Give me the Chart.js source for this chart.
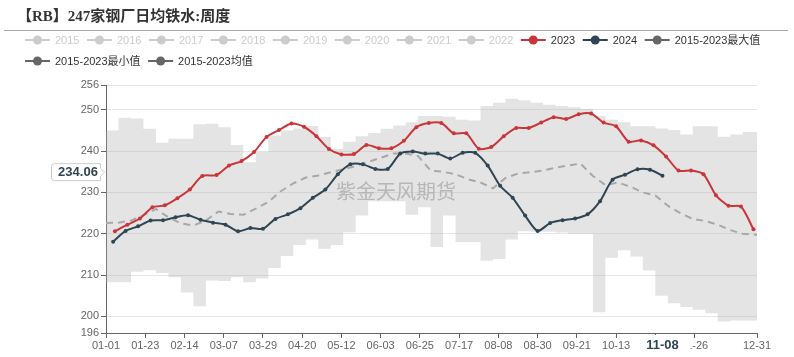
<!DOCTYPE html>
<html><head><meta charset="utf-8">
<script src="https://cdn.jsdelivr.net/npm/chart.js@4.4.1/dist/chart.umd.min.js"></script>
<style>html,body{margin:0;padding:0;background:#fff;}#wrap{width:794px;height:357px;position:relative;}</style>
</head><body><div id="wrap"><canvas id="c" width="794" height="357"></canvas></div>
<script>
// ---------- DATA ----------
const chartTitle = '【RB】247家钢厂日均铁水:周度';
const watermark = '紫金天风期货';
const seriesNames = ['2015','2016','2017','2018','2019','2020','2021','2022','2023','2024','2015-2023最大值','2015-2023最小值','2015-2023均值'];
const seriesShown = [false,false,false,false,false,false,false,false,true,true,true,true,true];
const xTickLabels = ['01-01','01-23','02-14','03-07','03-29','04-20','05-12','06-03','06-25','07-17','08-08','08-30','09-21','10-13','11-04','11-26','12-31'];
const yTickValues = [196,200,210,220,230,240,250,256];
const pointerX = '11-08';
const pointerY = 234.06;

const dates2023 = ['01-06','01-13','01-20','01-27','02-03','02-10','02-17','02-24','03-03','03-10','03-17','03-24','03-31','04-07','04-14','04-21','04-28','05-05','05-12','05-19','05-26','06-02','06-09','06-16','06-23','06-30','07-07','07-14','07-21','07-28','08-04','08-11','08-18','08-25','09-01','09-08','09-15','09-22','09-29','10-06','10-13','10-20','10-27','11-03','11-10','11-17','11-24','12-01','12-08','12-15','12-22','12-29'];
const values2023 = [220.6,222.2,223.7,226.4,226.9,228.6,230.7,234.0,234.2,236.5,237.6,239.8,243.4,245.1,246.7,245.9,243.6,240.5,239.2,239.3,241.5,240.7,240.7,242.5,245.8,246.8,246.8,244.3,244.3,240.6,241.0,243.6,245.6,245.6,246.9,248.2,247.8,248.9,249.1,246.9,246.0,242.3,242.6,241.4,238.7,235.3,235.3,234.4,229.3,226.8,226.6,221.1];

const dates2024 = ['01-05','01-12','01-19','01-26','02-02','02-09','02-16','02-23','03-01','03-08','03-15','03-22','03-29','04-05','04-12','04-19','04-26','05-03','05-10','05-17','05-24','05-31','06-07','06-14','06-21','06-28','07-05','07-12','07-19','07-26','08-02','08-09','08-16','08-23','08-30','09-06','09-13','09-20','09-27','10-04','10-11','10-18','10-25','11-01','11-08'];
const values2024 = [218.1,220.7,221.8,223.2,223.3,224.0,224.5,223.4,222.7,222.2,220.6,221.4,221.2,223.6,224.7,226.2,228.7,230.7,234.4,236.8,236.8,235.7,235.7,239.4,239.9,239.4,239.4,238.2,239.6,239.6,236.5,231.6,228.7,224.4,220.7,222.6,223.3,223.7,224.7,227.9,233.1,234.3,235.6,235.5,234.06];

const bandDates = ['01-01','01-08','01-15','01-22','01-29','02-05','02-12','02-19','02-26','03-04','03-11','03-18','03-25','04-01','04-08','04-15','04-22','04-29','05-06','05-13','05-20','05-27','06-03','06-10','06-17','06-24','07-01','07-08','07-15','07-22','07-29','08-05','08-12','08-19','08-26','09-02','09-09','09-16','09-23','09-30','10-07','10-14','10-21','10-28','11-04','11-11','11-18','11-25','12-02','12-09','12-16','12-23','12-30','12-31'];
const maxValues = [245.0,248.1,247.9,245.4,242.0,243.0,243.0,246.5,246.6,245.8,241.5,237.3,239.8,243.8,245.0,245.5,246.1,243.4,240.5,242.3,243.6,244.4,245.4,246.2,247.0,248.5,248.5,248.3,247.6,247.4,250.9,251.7,252.7,252.3,251.7,251.2,250.9,250.6,250.2,248.5,247.6,247.0,246.0,246.0,245.5,245.1,244.0,246.0,246.0,243.5,244.0,244.6,244.6,244.6];
const minValues = [208.3,208.3,210.8,211.2,210.5,209.5,205.8,202.5,208.7,208.6,209.5,208.3,209.2,211.7,214.6,217.3,218.6,216.4,217.3,220.4,224.4,227.9,227.9,227.9,224.6,226.4,216.8,224.4,218.0,218.0,213.5,213.9,218.6,220.6,220.5,220.5,220.3,220.0,220.0,201.0,214.2,216.0,214.5,211.1,205.0,203.2,202.3,201.6,200.8,198.8,199.0,199.0,199.0,199.0];
const meanValues = [222.6,222.7,223.2,224.5,226.0,224.0,222.5,222.0,223.2,225.4,224.8,224.6,226.1,227.7,230.3,232.2,233.6,234.1,234.9,235.6,236.4,237.4,238.4,239.4,239.4,238.8,235.3,235.0,234.4,233.2,232.4,231.0,233.5,234.6,234.9,235.3,236.0,236.5,237.0,234.0,231.8,232.4,231.4,230.0,229.3,226.8,225.0,223.6,223.1,222.2,220.9,220.0,219.8,219.8];

// ---------- STYLE ----------
const RED = '#c9363a', DARK = '#2f4554', GREY = '#666666';
const legendColors = ['#ccc','#ccc','#ccc','#ccc','#ccc','#ccc','#ccc','#ccc',RED,DARK,GREY,GREY,GREY];
const LATIN = '"Liberation Sans","Noto Sans CJK SC",sans-serif';

function dayOf(md){ const [m,d]=md.split('-').map(Number); return (Date.UTC(2024,m-1,d)-Date.UTC(2024,0,1))/86400000; }
function mdOf(day){ const dt=new Date(Date.UTC(2024,0,1)+day*86400000); return String(dt.getUTCMonth()+1).padStart(2,'0')+'-'+String(dt.getUTCDate()).padStart(2,'0'); }
const pts = (ds, vs) => ds.map((d,i)=>({x:dayOf(d), y:vs[i]}));

const decor = {
  id:'decor',
  beforeDraw(chart){
    const ctx = chart.ctx;
    ctx.save();
    ctx.fillStyle='#fff'; ctx.fillRect(0,0,chart.width,chart.height);
    ctx.fillStyle='#333'; ctx.font='bold 15px "Liberation Serif","Noto Sans CJK SC",serif';
    ctx.textBaseline='middle'; ctx.textAlign='left';
    ctx.fillText(chartTitle,17,17);
    ctx.strokeStyle='#aaa'; ctx.lineWidth=1;
    ctx.beginPath(); ctx.moveTo(4,30.5); ctx.lineTo(788,30.5); ctx.stroke();
    // legend
    ctx.font='11px '+LATIN;
    let x=25, y=40;
    seriesNames.forEach((name,i)=>{
      const w=ctx.measureText(name).width;
      const itemW=30+w;
      if(x+itemW>780){ x=25; y+=21; }
      const col=legendColors[i];
      ctx.strokeStyle=col; ctx.lineWidth=2;
      ctx.beginPath(); ctx.moveTo(x,y); ctx.lineTo(x+25,y); ctx.stroke();
      ctx.fillStyle=col; ctx.beginPath(); ctx.arc(x+12.5,y,4.5,0,Math.PI*2); ctx.fill();
      ctx.fillStyle=seriesShown[i]?'#333':'#ccc';
      ctx.fillText(name,x+30,y+0.5);
      x+=itemW+7.5;
    });
    ctx.restore();
  },
  beforeDatasetsDraw(chart){
    const ctx=chart.ctx; ctx.save();
    ctx.font='20px "Noto Sans CJK SC",sans-serif'; ctx.fillStyle='#bdbdbd';
    ctx.textAlign='center'; ctx.textBaseline='middle';
    ctx.fillText(watermark,396,191);
    ctx.restore();
  },
  afterDraw(chart){
    const ctx=chart.ctx; ctx.save();
    // y pointer label
    const cy=chart.scales.y.getPixelForValue(pointerY)-3.5;
    ctx.fillStyle='#fff'; ctx.strokeStyle='#ccc'; ctx.lineWidth=1;
    const l=51.5, r=100.5, t=cy-8.5, b=cy+8.5, rad=3;
    ctx.beginPath();
    ctx.moveTo(l+rad,t); ctx.lineTo(r,t); ctx.lineTo(r,cy-4); ctx.lineTo(r+4,cy); ctx.lineTo(r,cy+4); ctx.lineTo(r,b);
    ctx.lineTo(l+rad,b); ctx.arcTo(l,b,l,b-rad,rad); ctx.lineTo(l,t+rad); ctx.arcTo(l,t,l+rad,t,rad); ctx.closePath();
    ctx.fill(); ctx.stroke();
    ctx.fillStyle=DARK; ctx.font='bold 13px '+LATIN; ctx.textAlign='center'; ctx.textBaseline='middle';
    ctx.fillText(pointerY.toFixed(2),78,cy+0.5);
    // x pointer label
    const px=chart.scales.x.getPixelForValue(dayOf(pointerX));
    ctx.fillStyle='#fff'; ctx.fillRect(px-28,335,56,22);
    ctx.fillStyle=DARK; ctx.fillText(pointerX,px,345.5);
    ctx.restore();
  }
};

Chart.defaults.font.family=LATIN;
Chart.defaults.font.size=11;
Chart.defaults.color='#666';

new Chart(document.getElementById('c'),{
  type:'line',
  data:{datasets:[
    {label:'2023',data:pts(dates2023,values2023),borderColor:RED,backgroundColor:RED,borderWidth:2,pointRadius:2,pointBorderWidth:0,pointBackgroundColor:RED,tension:0.25,fill:false},
    {label:'2024',data:pts(dates2024,values2024),borderColor:DARK,backgroundColor:DARK,borderWidth:2,pointRadius:2,pointBorderWidth:0,pointBackgroundColor:DARK,tension:0.25,fill:false},
    {label:'2015-2023均值',data:pts(bandDates,meanValues),borderColor:'#a8a8a8',borderWidth:2,borderDash:[7,5],pointRadius:0,tension:0,fill:false},
    {label:'2015-2023最大值',data:pts(bandDates,maxValues),borderWidth:0,borderColor:'rgba(0,0,0,0)',pointRadius:0,stepped:'before',fill:'+1',backgroundColor:'rgba(170,170,170,0.32)'},
    {label:'2015-2023最小值',data:pts(bandDates,minValues),borderWidth:0,borderColor:'rgba(0,0,0,0)',pointRadius:0,stepped:'before',fill:false}
  ]},
  options:{
    responsive:false,animation:false,devicePixelRatio:1,
    layout:{padding:{top:85,right:37,left:0,bottom:0}},
    plugins:{legend:{display:false},title:{display:false},tooltip:{enabled:false}},
    scales:{
      x:{type:'linear',min:0,max:dayOf('12-31'),
        afterBuildTicks:s=>{s.ticks=xTickLabels.map(t=>({value:dayOf(t)}));},
        afterFit:s=>{s.height=24;},
        ticks:{autoSkip:false,maxRotation:0,padding:1,color:'#666',callback:v=>mdOf(v)},
        grid:{drawOnChartArea:false,tickLength:5,tickColor:'#666'},
        border:{color:'#666',width:1}},
      y:{type:'linear',min:196,max:256,
        afterBuildTicks:s=>{s.ticks=yTickValues.map(v=>({value:v}));},
        afterFit:s=>{s.width=106;},
        ticks:{padding:2,color:'#666'},
        grid:{color:'#e6e6e6',tickLength:5,tickColor:'#666'},
        border:{color:'#666',width:1}}
    }
  },
  plugins:[decor]
});
</script></body></html>
